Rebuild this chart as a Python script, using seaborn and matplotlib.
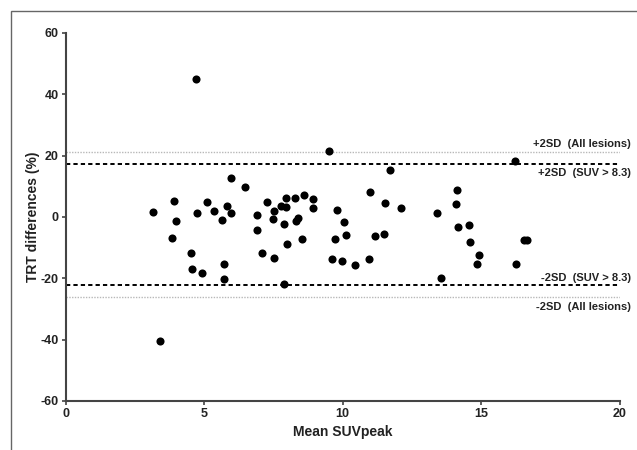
import matplotlib
matplotlib.use("Agg")
import matplotlib.pyplot as plt
from matplotlib.patches import Rectangle
import seaborn as sns
import pandas as pd

### data
mean_suv = [3.16, 3.92, 3.97, 3.85, 4.52, 4.57, 4.92, 4.74, 5.98, 6.47,
            5.10, 5.35, 5.81, 5.97, 5.64, 5.71, 5.73, 7.26, 6.91, 6.89,
            7.10, 9.51, 11.72, 7.53, 7.50, 7.78, 7.94, 7.95, 7.89, 8.29,
            8.60, 8.92, 8.92, 8.38, 8.32, 8.53, 7.98, 7.51, 7.88, 9.78,
            10.06, 10.12, 9.71, 9.63, 9.96, 10.44, 10.94, 10.99, 11.54, 11.15,
            11.49, 12.12, 13.39, 14.12, 14.08, 14.16, 14.55, 14.58, 14.92, 14.84,
            13.55, 16.22, 16.55, 16.66, 16.25, 3.40, 4.72]
trt_diff = [1.7, 5.3, -1.2, -6.8, -11.8, -17.1, -18.2, 1.3, 12.6, 9.9,
            5.0, 1.9, 3.6, 1.3, -0.9, -15.2, -20.1, 5.0, 0.6, -4.2,
            -11.6, 21.5, 15.3, 2.0, -0.7, 3.6, 6.1, 3.4, -2.3, 6.3,
            7.1, 5.8, 2.9, -0.4, -1.3, -7.1, -8.7, -13.4, -21.7, 2.3,
            -1.6, -6.0, -7.2, -13.8, -14.5, -15.6, -13.6, 8.0, 4.5, -6.3,
            -5.4, 3.0, 1.2, 8.8, 4.1, -3.2, -2.6, -8.0, -12.5, -15.2,
            -19.8, 18.3, -7.6, -7.4, -15.4, -40.3, 45.0]

# limits of agreement (+2SD, -2SD)
sd_all = [21.3, -26.1]
sd_high = [17.4, -22.3]
labels_all = ["+2SD  (All lesions)", "-2SD  (All lesions)"]
labels_high = ["+2SD  (SUV > 8.3)", "-2SD  (SUV > 8.3)"]

x_ticks = [0, 5, 10, 15, 20]
y_ticks = [-60, -40, -20, 0, 20, 40, 60]

df = pd.DataFrame({"Mean SUVpeak": mean_suv, "TRT differences (%)": trt_diff})

sns.set_style("ticks")
plt.rcParams["font.family"] = ["Liberation Sans", "DejaVu Sans"]
plt.rcParams["axes.unicode_minus"] = False

fig = plt.figure(figsize=(6.37, 4.5), dpi=100)
ax = fig.add_axes([0.1031, 0.1089, 0.8697, 0.8178])

# outer frame of the panel (cut off at right and bottom)
fig.patches.append(Rectangle((11 / 637, -0.2), 1.2, 1.2 - 11 / 450,
                             transform=fig.transFigure, fill=False,
                             edgecolor="#666666", linewidth=1.0))

sns.scatterplot(data=df, x="Mean SUVpeak", y="TRT differences (%)", ax=ax,
                color="black", s=34, edgecolor="black", linewidth=0, zorder=3)

for v in sd_all:
    ax.plot([0, 20], [v, v], color="#b8b8b8", linestyle=(0, (1, 1)), linewidth=1.0)
for v in sd_high:
    ax.plot([0, 20], [v, v], color="black", linestyle=(0, (2.2, 1.6)), linewidth=1.4)

txt = dict(ha="right", va="center", fontsize=8, fontweight="bold",
           color="#222222", clip_on=False)
ax.text(20.4, 23.8, labels_all[0], **txt)
ax.text(20.4, 14.2, labels_high[0], **txt)
ax.text(20.4, -20.0, labels_high[1], **txt)
ax.text(20.4, -29.2, labels_all[1], **txt)

ax.set_xlim(0, 20)
ax.set_ylim(-60, 60)
ax.set_xticks(x_ticks)
ax.set_yticks(y_ticks)
for lab in ax.get_xticklabels() + ax.get_yticklabels():
    lab.set_fontweight("bold")
    lab.set_fontsize(9)
    lab.set_color("#222222")
ax.tick_params(direction="out", length=3, width=1.2, color="#444444", pad=2)
ax.set_xlabel("Mean SUVpeak", fontsize=10, fontweight="bold", color="#222222", labelpad=4)
ax.set_ylabel("TRT differences (%)", fontsize=10, fontweight="bold", color="#222222")
ax.yaxis.set_label_coords(-0.047, 0.5)
sns.despine(ax=ax)
for sp in ["left", "bottom"]:
    ax.spines[sp].set_linewidth(1.5)
    ax.spines[sp].set_color("#444444")

fig.savefig("out.png", dpi=100)
